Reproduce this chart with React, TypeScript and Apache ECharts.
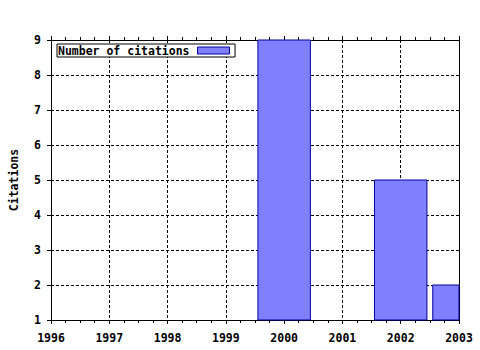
import React, { useEffect, useRef } from "react";
import * as echarts from "echarts";

const years = [2000, 2002, 2003];
const citations = [9, 5, 2];
const xMin = 1996;
const xMax = 2003;
const yMin = 1;
const yMax = 9;
const seriesName = "Number of citations";
const yAxisName = "Citations";

const FONT = "'DejaVu Sans Mono', 'Liberation Mono', monospace";
const FILL = "#8080ff";
const STROKE = "#0000a0";

export default function App() {
  const ref = useRef<HTMLDivElement>(null);
  useEffect(() => {
    if (!ref.current) return;
    const chart = echarts.init(ref.current, null, { renderer: "svg" });
    const txt = { fontFamily: FONT, fontWeight: "bold" as const, fontSize: 11.5, color: "#000" };
    const dash = { color: "#000", width: 1, type: [3, 2] as number[] };
    chart.setOption({
      animation: false,
      backgroundColor: "#fff",
      grid: { left: 50, right: 21, top: 40, bottom: 30, containLabel: false },
      legend: {
        show: true,
        left: 57,
        top: 44,
        align: "right",
        orient: "horizontal",
        padding: [0, 5, 0, 1],
        borderColor: "#000",
        borderWidth: 1,
        borderRadius: 0,
        backgroundColor: "#fff",
        itemWidth: 32,
        itemHeight: 7,
        textStyle: { ...txt, lineHeight: 13, padding: [0, 3, 0, 0] },
        data: [
          {
            name: seriesName,
            icon: "rect",
            itemStyle: { color: FILL, borderColor: STROKE, borderWidth: 1 },
          },
        ],
      },
      xAxis: [
        {
          type: "value",
          min: xMin,
          max: xMax,
          interval: 1,
          position: "bottom",
          axisLine: { show: true, onZero: false, lineStyle: { color: "#000", width: 1 } },
          axisTick: { show: true, inside: false, length: 4, lineStyle: { color: "#000" } },
          minorTick: { show: true, splitNumber: 4, length: 3, lineStyle: { color: "#000" } },
          axisLabel: { ...txt, margin: 12, formatter: (v: number) => String(v) },
          splitLine: { show: true, lineStyle: dash },
        },
        {
          type: "value",
          min: xMin,
          max: xMax,
          interval: 1,
          position: "top",
          axisLine: { show: true, onZero: false, lineStyle: { color: "#000", width: 1 } },
          axisTick: { show: true, inside: false, length: 4, lineStyle: { color: "#000" } },
          minorTick: { show: true, splitNumber: 4, length: 3, lineStyle: { color: "#000" } },
          axisLabel: { show: false },
          splitLine: { show: false },
        },
      ],
      yAxis: [
        {
          type: "value",
          min: yMin,
          max: yMax,
          interval: 1,
          position: "left",
          name: yAxisName,
          nameLocation: "middle",
          nameGap: 31,
          nameTextStyle: { ...txt },
          axisLine: { show: true, onZero: false, lineStyle: { color: "#000", width: 1 } },
          axisTick: { show: true, inside: false, length: 4, lineStyle: { color: "#000" } },
          axisLabel: { ...txt, margin: 10, padding: [2, 0, 0, 0] },
          splitLine: { show: true, lineStyle: dash },
        },
        {
          type: "value",
          min: yMin,
          max: yMax,
          interval: 1,
          position: "right",
          axisLine: { show: true, onZero: false, lineStyle: { color: "#000", width: 1 } },
          axisTick: { show: false },
          axisLabel: { show: false },
          splitLine: { show: false },
        },
      ],
      series: [
        {
          name: seriesName,
          type: "custom",
          xAxisIndex: 0,
          yAxisIndex: 0,
          encode: { x: 0, y: 1 },
          itemStyle: { color: FILL, borderColor: STROKE, borderWidth: 1 },
          data: years.map((y, i) => [y, citations[i]]),
          renderItem: (params: any, api: any) => {
            const xv = api.value(0);
            const yv = api.value(1);
            const top = api.coord([xv, yv]);
            const base = api.coord([xv, yMin]);
            const w = api.size([0.9, 0])[0];
            const cs = params.coordSys;
            const rect = echarts.graphic.clipRectByRect(
              { x: top[0] - w / 2, y: top[1], width: w, height: base[1] - top[1] },
              { x: cs.x, y: cs.y, width: cs.width, height: cs.height }
            );
            if (!rect) return null;
            return {
              type: "rect",
              shape: rect,
              style: { fill: FILL, stroke: STROKE, lineWidth: 1 },
            };
          },
          z: 1,
        },
      ],
    });
    return () => chart.dispose();
  }, []);
  return (
    <div
      ref={ref}
      style={{ position: "fixed", left: 0, top: 0, width: 480, height: 350, background: "#fff" }}
    />
  );
}
